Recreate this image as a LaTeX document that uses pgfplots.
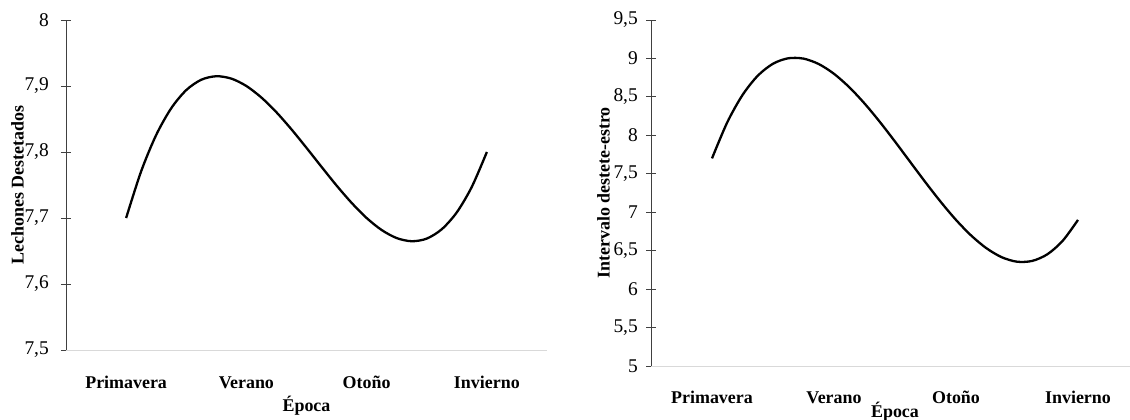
\documentclass[border=0pt]{standalone}
\usepackage{fontspec}
\setmainfont{Liberation Serif}
\usepackage{pgfplots}
\pgfplotsset{compat=1.18}
\definecolor{axgray}{HTML}{404040}
\definecolor{lightax}{HTML}{D9D9D9}
\begin{document}
\begin{tikzpicture}
\path[use as bounding box] (0bp,0bp) rectangle (1130bp,420bp);
\pgfplotsset{
  panel/.style={
    scale only axis,
    anchor=south west,
    axis x line*=bottom,
    axis y line*=left,
    x axis line style={draw=lightax, line width=1bp},
    y axis line style={draw=axgray, line width=0.8bp},
    xmin=-0.5, xmax=3.5,
    xtick={0,1,2,3},
    xticklabels={Primavera,Verano,Otoño,Invierno},
    xtick style={draw=none},
    ytick style={draw=axgray, line width=0.8bp},
    tick align=center,
    major tick length=10bp,
    /pgf/number format/assume math mode=true,
    /pgf/number format/use comma,
    /pgf/number format/fixed,
    /pgf/number format/precision=1,
    yticklabel style={font=\fontsize{19.5}{21}\selectfont, anchor=east, inner sep=0pt},
    xticklabel style={font=\fontsize{18}{20}\selectfont\bfseries, anchor=base, inner sep=0pt},
    label style={font=\fontsize{18}{20}\selectfont\bfseries},
    clip=false,
  },
  curve/.style={black, line width=2.3bp, smooth, no markers},
}
% Left panel
\begin{axis}[panel,
  at={(66bp,70bp)},
  width=481bp, height=330bp,
  ymin=7.5, ymax=8,
  ytick={7.5,7.6,7.7,7.8,7.9,8},
  yticklabel style={xshift=-12bp},
  xticklabel style={yshift=-33bp},
  xlabel={Época},
  xlabel style={at={([yshift=-56bp]axis description cs:0.5,0)}, anchor=center},
  ylabel={Lechones Destetados},
  ylabel style={at={([xshift=-48.5bp]axis description cs:0,0.5)}, anchor=center},
]
\addplot[curve] coordinates {
(0,7.7) (0.125,7.7708) (0.25,7.8258) (0.375,7.8663) (0.5,7.8938)
(0.625,7.9095) (0.75,7.9148) (0.875,7.9112) (1,7.9)
(1.125,7.8825) (1.25,7.8602) (1.375,7.8343) (1.5,7.8063)
(1.625,7.7775) (1.75,7.7492) (1.875,7.7230) (2,7.7)
(2.125,7.6818) (2.25,7.6696) (2.375,7.6648) (2.5,7.6688)
(2.625,7.6830) (2.75,7.7086) (2.875,7.7473) (3,7.8)
};
\end{axis}
% Right panel
\begin{axis}[panel,
  at={(651bp,54bp)},
  width=488bp, height=346bp,
  ymin=5, ymax=9.5,
  ytick={5,5.5,6,6.5,7,7.5,8,8.5,9,9.5},
  yticklabel style={xshift=-8bp},
  xticklabel style={yshift=-32bp},
  xlabel={Época},
  xlabel style={at={([yshift=-45.5bp]axis description cs:0.5,0)}, anchor=center},
  ylabel={Intervalo destete-estro},
  ylabel style={at={([xshift=-47.5bp]axis description cs:0,0.5)}, anchor=center},
]
\addplot[curve] coordinates {
(0,7.7) (0.125,8.1690) (0.25,8.5242) (0.375,8.7751) (0.5,8.9313)
(0.625,9.0022) (0.75,8.9977) (0.875,8.9271) (1,8.8)
(1.125,8.6260) (1.25,8.4148) (1.375,8.1760) (1.5,7.9188)
(1.625,7.6531) (1.75,7.3883) (1.875,7.1343) (2,6.9)
(2.125,6.6959) (2.25,6.5311) (2.375,6.4146) (2.5,6.3563)
(2.625,6.3669) (2.75,6.4543) (2.875,6.6294) (3,6.9)
};
\end{axis}
\end{tikzpicture}
\end{document}
